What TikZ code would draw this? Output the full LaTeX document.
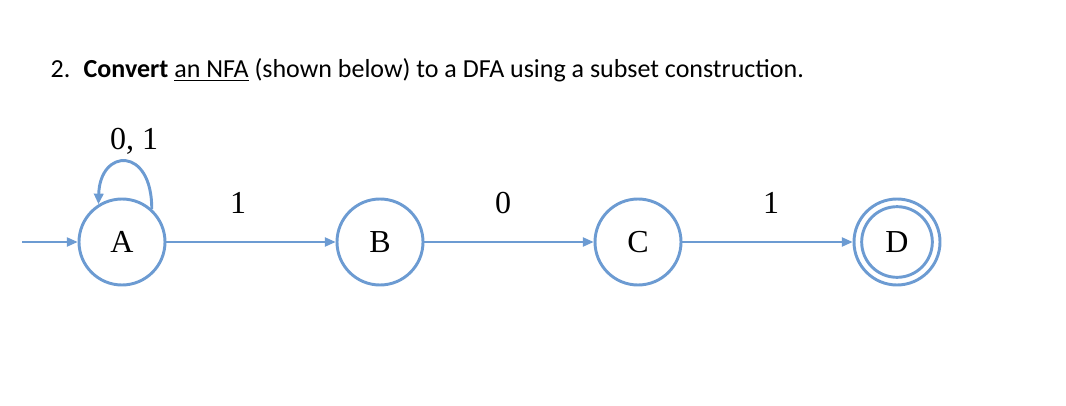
\documentclass[tikz,border=0pt]{standalone}
\usepackage{fontspec}
\setmainfont{Liberation Serif}
\newfontfamily\calibri{Carlito}
\usetikzlibrary{arrows.meta}
\definecolor{nfablue}{RGB}{108,155,210}

\begin{document}
\begin{tikzpicture}
    [x=0.75pt,y=-0.75pt,
     every node/.style={font=\fontsize{24}{28}\selectfont},
     state/.style={circle,draw=nfablue,line width=2.2pt,minimum size=64.5pt,inner sep=0pt},
     edge/.style={draw=nfablue,line width=0.8pt,-{Triangle[length=8pt,width=7pt]}}]
    \useasboundingbox (0,0) rectangle (1066,406);

    \node[anchor=base west,font=\calibri\fontsize{19.5}{23}\selectfont] (num) at (46,78) {2.};
    \node[anchor=base west,font=\calibri\fontsize{19.5}{23}\selectfont] (task) at (79,78)
      {\textbf{Convert} \underline{an NFA} (shown below) to a DFA using a subset construction.};

    \node[state] (qA) at (122,242) {A};
    \node[state] (qB) at (380,242) {B};
    \node[state] (qC) at (638,242) {C};
    \node[state] (qD) at (897,242) {D};
    \node[state,minimum size=53pt] (qDin) at (897,242) {};

    \coordinate (start) at (22,242);

    \draw[edge] (start) -- (qA);
    \draw[edge] (qA) -- (qB);
    \draw[edge] (qB) -- (qC);
    \draw[edge] (qC) -- (qD);
    \draw[edge,line width=2.2pt] (qA.48) .. controls (152,146) and (100,148) .. (qA.122);

    \node[anchor=base] (l0) at (134,150) {0, 1};
    \node[anchor=base] (l1) at (238,213) {1};
    \node[anchor=base] (l2) at (503,213) {0};
    \node[anchor=base] (l3) at (771,213) {1};
  \end{tikzpicture}
\end{document}
